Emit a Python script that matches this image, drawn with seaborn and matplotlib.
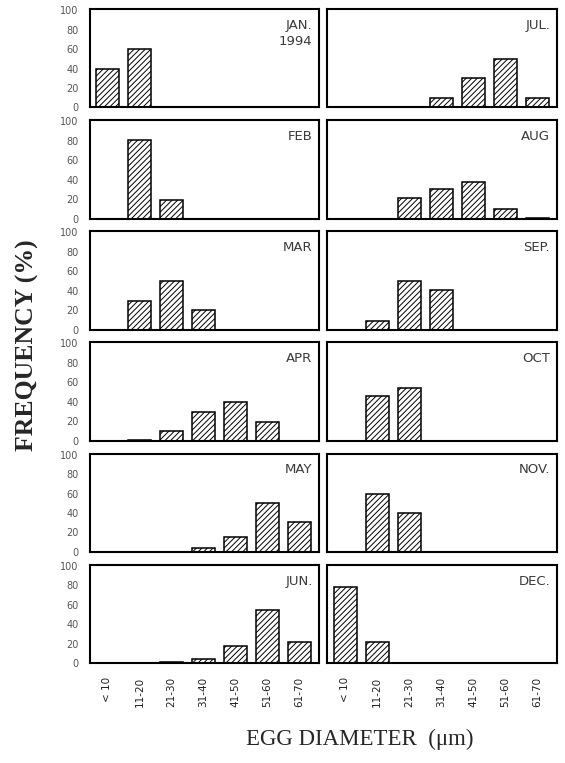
import matplotlib
matplotlib.use("Agg")
import matplotlib.pyplot as plt
import numpy as np
import pandas as pd
import seaborn as sns

#%% data (frequency in %)

diameter_bins = ["< 10", "11-20", "21-30", "31-40", "41-50", "51-60", "61-70"]

jan = [40, 60, 0, 0, 0, 0, 0]
feb = [0, 81, 19, 0, 0, 0, 0]
mar = [0, 30, 50, 20, 0, 0, 0]
apr = [0, 1, 10, 30, 40, 19, 0]
may = [0, 0, 0, 4, 15, 50, 31]
jun = [0, 0, 1, 4, 18, 55, 22]
jul = [0, 0, 0, 10, 30, 50, 10]
aug = [0, 0, 21, 30, 38, 10, 1]
sep = [0, 9, 50, 41, 0, 0, 0]
octo = [0, 46, 54, 0, 0, 0, 0]
nov = [0, 60, 40, 0, 0, 0, 0]
dec = [78, 22, 0, 0, 0, 0, 0]

left_months = ["JAN.\n1994", "FEB", "MAR", "APR", "MAY", "JUN."]
right_months = ["JUL.", "AUG", "SEP.", "OCT", "NOV.", "DEC."]
left_data = [jan, feb, mar, apr, may, jun]
right_data = [jul, aug, sep, octo, nov, dec]

y_ticks = [0, 20, 40, 60, 80, 100]

#%% plotting

sns.set_theme(style="white")
plt.rcParams["font.family"] = ["DejaVu Sans"]
plt.rcParams["hatch.linewidth"] = 0.7

fig, axes = plt.subplots(6, 2, figsize=(5.65, 7.63), dpi=100, sharey=True)
fig.subplots_adjust(left=0.159, right=0.986, top=0.988, bottom=0.131,
                    hspace=0.13, wspace=0.035)


def draw_panel(ax, values, month):
    df = pd.DataFrame({"bin": diameter_bins, "freq": values})
    sns.barplot(data=df, x="bin", y="freq", order=diameter_bins, ax=ax,
                color="white", edgecolor="black", linewidth=1.1,
                width=0.72, saturation=1)
    for p in ax.patches:
        p.set_hatch("//////")
    ax.set_xlim(-0.55, 6.62)
    ax.set_ylim(0, 101)
    ax.set_xlabel("")
    ax.set_ylabel("")
    for s in ax.spines.values():
        s.set_visible(True)
        s.set_color("black")
        s.set_linewidth(1.5)
    ax.tick_params(length=0)
    ax.text(0.97, 0.9, month, transform=ax.transAxes, ha="right", va="top",
            fontsize=9.5, color="#3a3a3a", linespacing=1.3)


for r in range(6):
    draw_panel(axes[r, 0], left_data[r], left_months[r])
    draw_panel(axes[r, 1], right_data[r], right_months[r])
    axes[r, 0].set_yticks(y_ticks)
    axes[r, 0].set_yticklabels([str(t) for t in y_ticks], fontsize=7, color="#555555")
    axes[r, 0].tick_params(axis="y", pad=8)
    axes[r, 1].tick_params(axis="y", labelleft=False)
    if r < 5:
        axes[r, 0].set_xticklabels([])
        axes[r, 1].set_xticklabels([])

for ax in axes[5]:
    ax.set_xticks(range(len(diameter_bins)))
    ax.set_xticklabels(diameter_bins, rotation=90, fontsize=7.5, color="#222222")
    ax.tick_params(axis="x", pad=10)

fig.text(0.048, 0.548, "FREQUENCY (%)", rotation=90, ha="center", va="center",
         fontsize=18.5, fontweight="bold", family="Liberation Serif")
fig.text(0.637, 0.031, "EGG DIAMETER  (\u03bcm)", ha="center", va="center",
         fontsize=16.5, family="Liberation Serif")

fig.savefig("out.png", dpi=100)
